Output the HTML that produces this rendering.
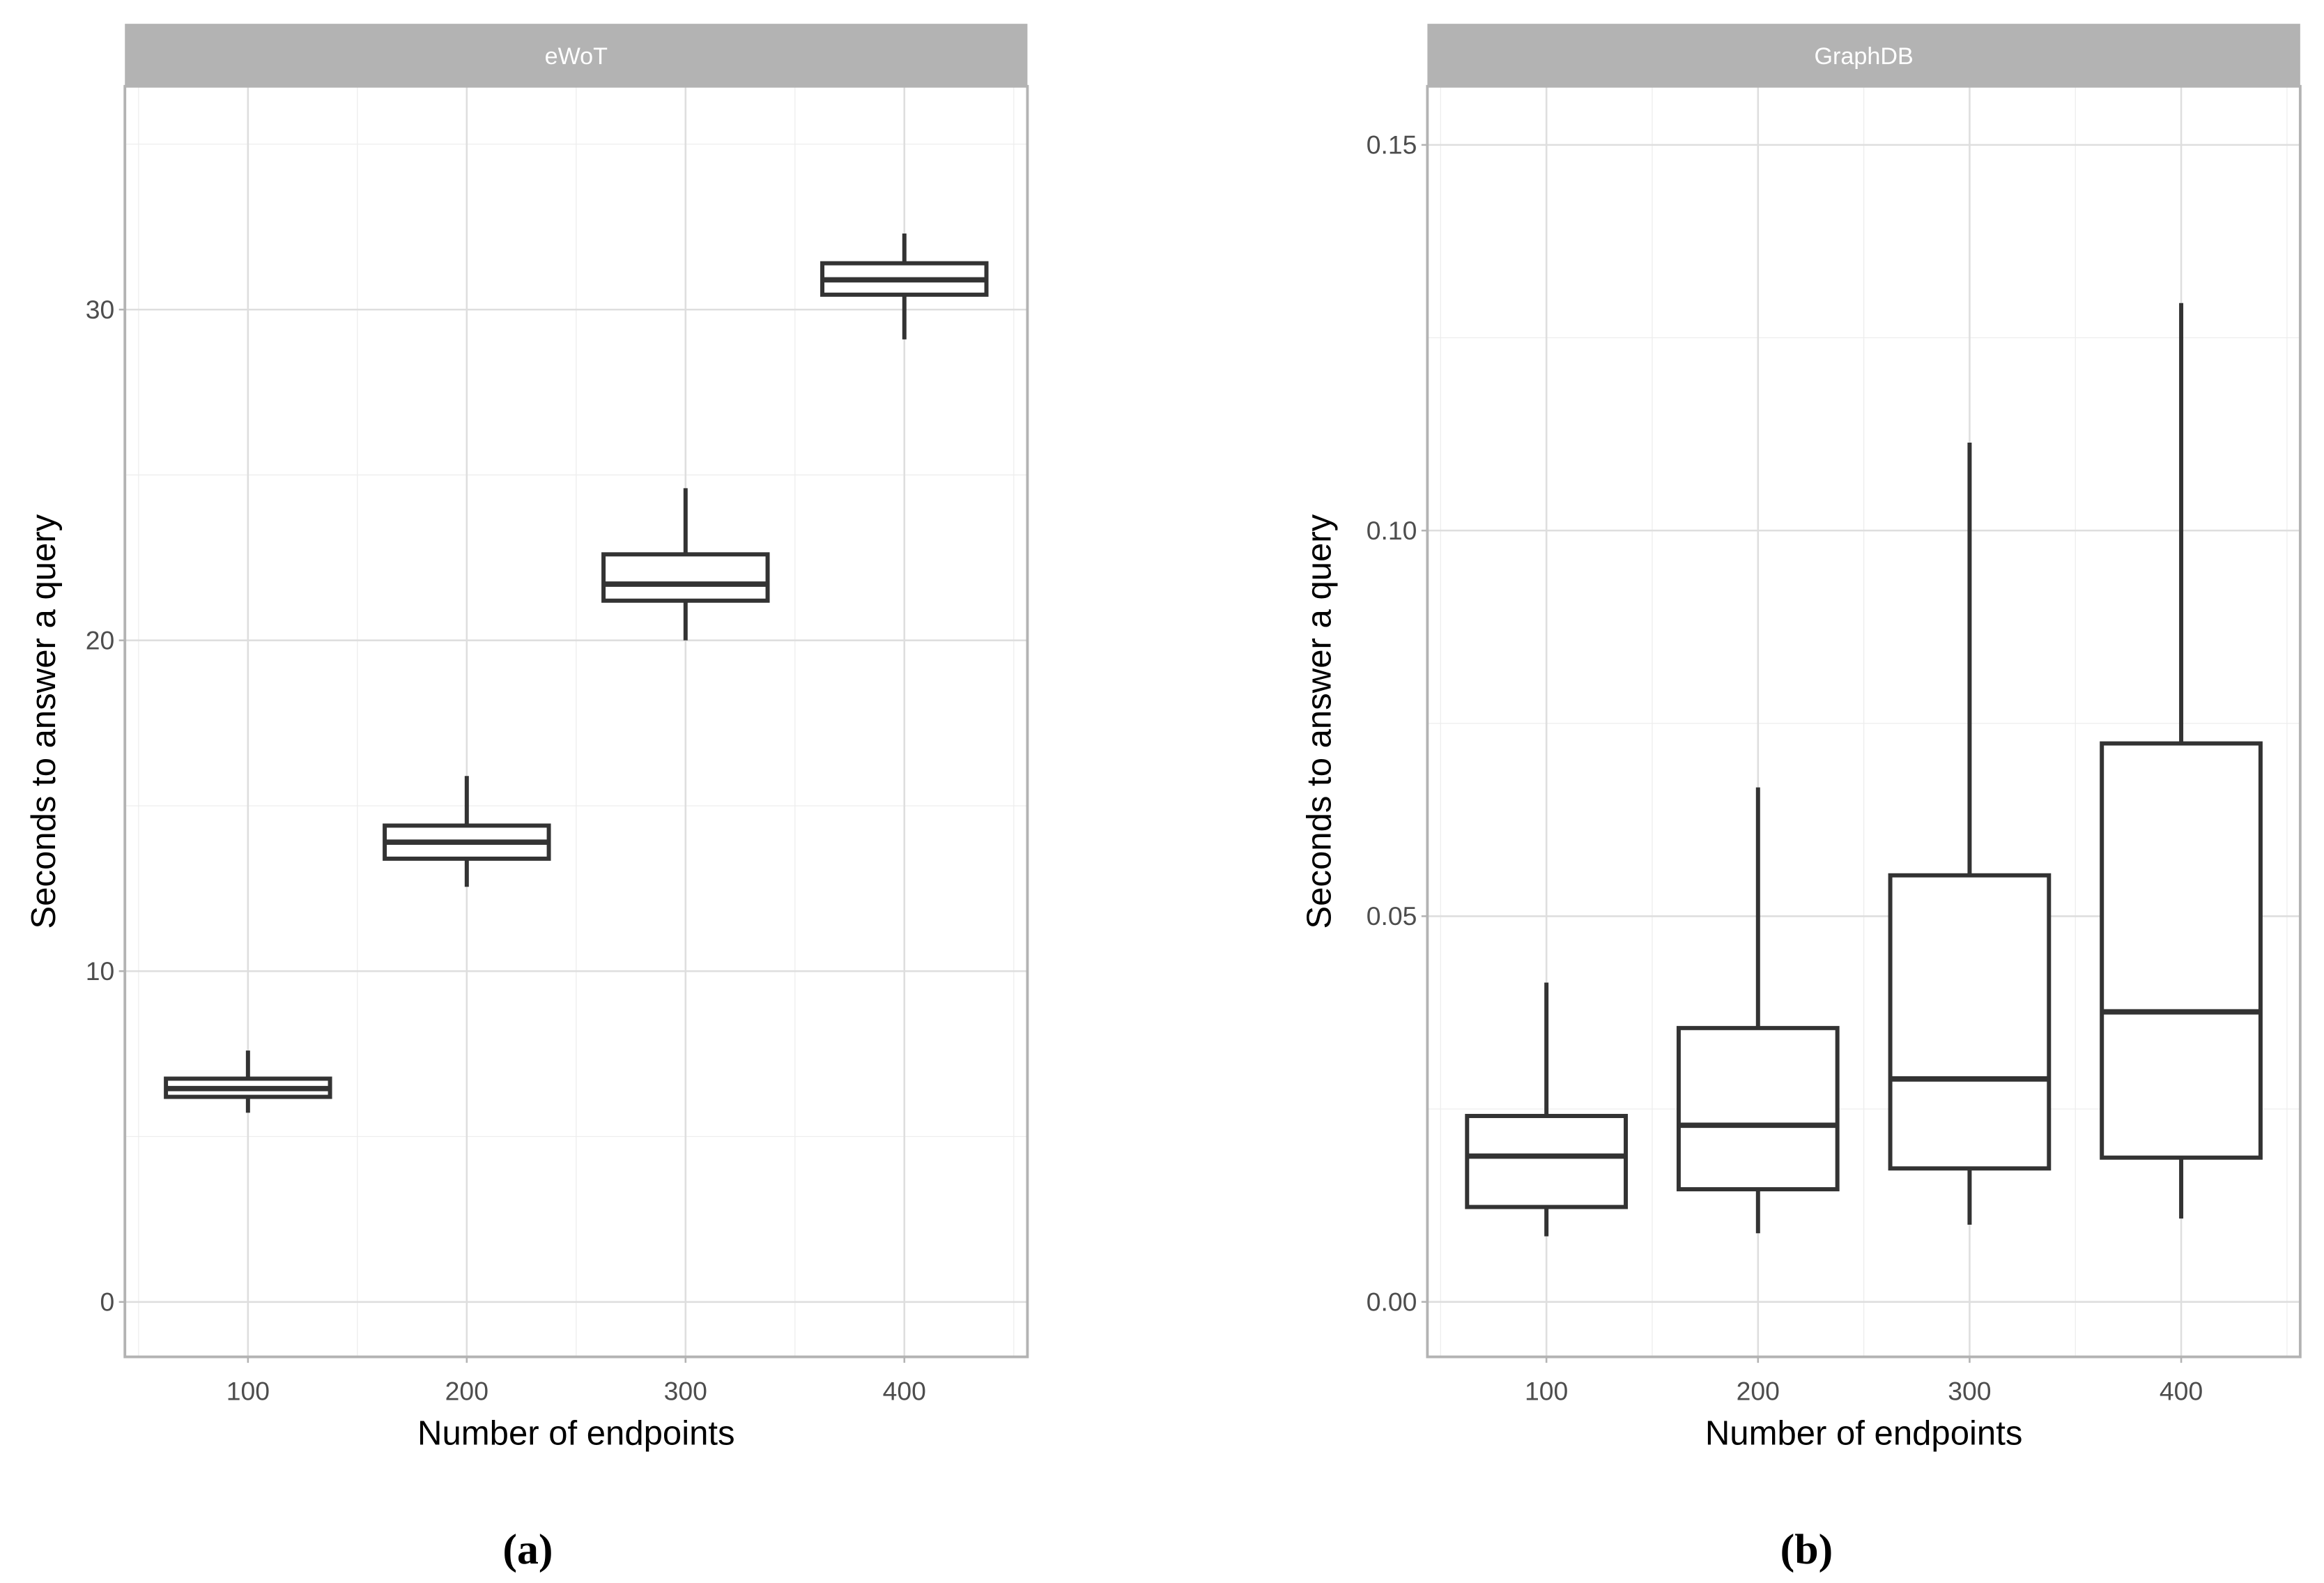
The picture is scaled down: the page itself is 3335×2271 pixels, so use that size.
<!DOCTYPE html>
<html><head><meta charset="utf-8"><style>
html,body{margin:0;padding:0;background:#fff}
svg{display:block}
text{font-family:"Liberation Sans",sans-serif}
</style></head><body>
<svg id="chart" width="3335" height="2271" viewBox="0 0 1563 1064" preserveAspectRatio="none" xmlns="http://www.w3.org/2000/svg">
</svg>
<script>
// eWoT data (seconds)
const categories = [100, 200, 300, 400];
const ewotLow = [5.72, 12.55, 20.0, 29.1];
const ewotQ1 = [6.2, 13.4, 21.2, 30.45];
const ewotMed = [6.45, 13.9, 21.7, 30.9];
const ewotQ3 = [6.75, 14.4, 22.6, 31.4];
const ewotHigh = [7.6, 15.9, 24.6, 32.3];
const ewotTicks = [0, 10, 20, 30];
// GraphDB data (seconds)
const gdbLow = [0.0085, 0.0089, 0.0100, 0.0108];
const gdbQ1 = [0.0123, 0.0146, 0.0173, 0.0187];
const gdbMed = [0.0189, 0.0229, 0.0289, 0.0376];
const gdbQ3 = [0.0241, 0.0355, 0.0553, 0.0724];
const gdbHigh = [0.0414, 0.0667, 0.1114, 0.1295];
const gdbTicks = [0, 0.05, 0.10, 0.15];
const gdbTickLabels = ["0.00", "0.05", "0.10", "0.15"];
const xTickLabels = ["100", "200", "300", "400"];

const NS = "http://www.w3.org/2000/svg";
const svg = document.getElementById('chart');
function mk(tag, attrs, parent, text) {
  const e = document.createElementNS(NS, tag);
  for (const k in attrs) e.setAttribute(k, attrs[k]);
  if (text !== undefined) e.textContent = text;
  (parent || svg).appendChild(e);
  return e;
}

function panel(cfg) {
  const g = mk('g', {});
  
  
  const {L, R, T, B} = cfg;
  const xs = v => L + (v - 43.75) / (456.25 - 43.75) * (R - L);
  const ys = v => B - (v - cfg.ymin) / (cfg.ymax - cfg.ymin) * (B - T);
  const strip = mk('rect', {x: L, y: 16, width: R - L, height: T - 16, fill: '#b3b3b3'}, g);
  
  
  const st = mk('text', {x: (L + R) / 2, y: 43, 'text-anchor': 'middle', 'font-size': 16, fill: '#fff'}, g, cfg.title);
  
  
  for (let v = 50; v <= 450; v += 100) mk('line', {x1: xs(v), x2: xs(v), y1: T, y2: B, stroke: '#ededed', 'stroke-width': 0.6}, g);
  for (const v of cfg.minor) mk('line', {x1: L, x2: R, y1: ys(v), y2: ys(v), stroke: '#ededed', 'stroke-width': 0.6}, g);
  categories.forEach(c => mk('line', {x1: xs(c), x2: xs(c), y1: T, y2: B, stroke: '#dedede', 'stroke-width': 1.2}, g));
  cfg.ticks.forEach(v => mk('line', {x1: L, x2: R, y1: ys(v), y2: ys(v), stroke: '#dedede', 'stroke-width': 1.2}, g));
  categories.forEach((c, i) => {
    const bg = mk('g', {stroke: '#333333', 'stroke-width': 2.8, fill: '#fff'}, g);
    
    
    const x0 = xs(c - 37.5), x1 = xs(c + 37.5), xc = xs(c);
    mk('line', {x1: xc, x2: xc, y1: ys(cfg.high[i]), y2: ys(cfg.q3[i])}, bg);
    mk('line', {x1: xc, x2: xc, y1: ys(cfg.q1[i]), y2: ys(cfg.low[i])}, bg);
    mk('rect', {x: x0, y: ys(cfg.q3[i]), width: x1 - x0, height: ys(cfg.q1[i]) - ys(cfg.q3[i])}, bg);
    mk('line', {x1: x0, x2: x1, y1: ys(cfg.med[i]), y2: ys(cfg.med[i]), 'stroke-width': 3.6}, bg);
  });
  mk('rect', {x: L, y: T, width: R - L, height: B - T, fill: 'none', stroke: '#b3b3b3', 'stroke-width': 1.8}, g);
  cfg.ticks.forEach((v, i) => {
    mk('line', {x1: L - 4, x2: L, y1: ys(v), y2: ys(v), stroke: '#b3b3b3', 'stroke-width': 1.2}, g);
    const t = mk('text', {x: L - 7, y: ys(v) + 6, 'text-anchor': 'end', 'font-size': 17.5, fill: '#4d4d4d'}, g, cfg.tickLabels[i]);
    
    
  });
  categories.forEach((c, i) => {
    mk('line', {x1: xs(c), x2: xs(c), y1: B, y2: B + 4, stroke: '#b3b3b3', 'stroke-width': 1.2}, g);
    const t = mk('text', {x: xs(c), y: 941, 'text-anchor': 'middle', 'font-size': 17.5, fill: '#4d4d4d'}, g, xTickLabels[i]);
    
    
  });
  const xt = mk('text', {x: (L + R) / 2, y: 971, 'text-anchor': 'middle', 'font-size': 23, fill: '#000'}, g, 'Number of endpoints');
  
  
  const yt = mk('text', {x: 0, y: 0, 'text-anchor': 'middle', 'font-size': 23, fill: '#000', transform: `translate(${cfg.ytx},${(T + B) / 2}) rotate(-90)`}, g, 'Seconds to answer a query');
  
  
  const cap = mk('text', {x: cfg.capx, y: 1051, 'text-anchor': 'middle', 'font-size': 29, 'font-weight': 'bold', fill: '#000', style: 'font-family:"Liberation Serif",serif'}, g, cfg.caption);
  
  
}

panel({name: 'ewot', title: 'eWoT', L: 84, R: 691, T: 58, B: 912, ymin: -1.66, ymax: 36.75,
  low: ewotLow, q1: ewotQ1, med: ewotMed, q3: ewotQ3, high: ewotHigh,
  ticks: ewotTicks, tickLabels: ewotTicks.map(String), minor: [5, 15, 25, 35],
  ytx: 37, capx: 355, caption: '(a)'});
panel({name: 'graphdb', title: 'GraphDB', L: 960, R: 1547, T: 58, B: 912, ymin: -0.00713, ymax: 0.1576,
  low: gdbLow, q1: gdbQ1, med: gdbMed, q3: gdbQ3, high: gdbHigh,
  ticks: gdbTicks, tickLabels: gdbTickLabels, minor: [0.025, 0.075, 0.125],
  ytx: 895, capx: 1215, caption: '(b)'});
</script>
</body></html>
